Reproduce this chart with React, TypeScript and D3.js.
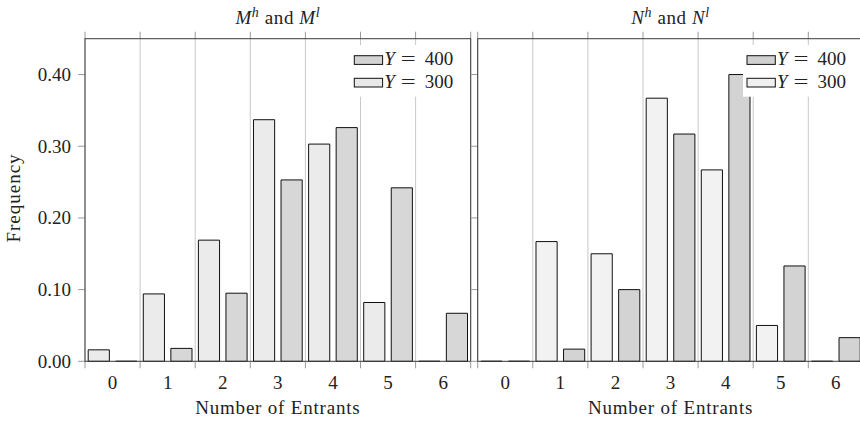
import React from "react";
import * as d3 from "d3";

const categories = [0, 1, 2, 3, 4, 5, 6];
const seriesKeys = ["300", "400"];
const yTicks = [0, 0.1, 0.2, 0.3, 0.4];

const mY300 = [0.016, 0.094, 0.169, 0.337, 0.303, 0.082, 0];
const mY400 = [0, 0.018, 0.095, 0.253, 0.326, 0.242, 0.067];
const nY300 = [0, 0.167, 0.15, 0.367, 0.267, 0.05, 0];
const nY400 = [0, 0.017, 0.1, 0.317, 0.4, 0.133, 0.033];

const FONT = "'Liberation Serif', serif";
const FS = 19;
const TOP = 38.7;
const BOTTOM = 361.3;
const PANEL_W = 385.7;
const TEXT = "#222";

type PanelProps = {
  x0: number;
  title: "M" | "N";
  y300: number[];
  y400: number[];
  fill300: string;
  fill400: string;
  leg300: string;
  leg400: string;
  showYLabels: boolean;
};

function Panel(p: PanelProps) {
  const x1 = p.x0 + PANEL_W;
  const xLin = d3.scaleLinear().domain([-0.5, 6.5]).range([p.x0, x1]);
  const band = d3
    .scaleBand<number>()
    .domain(categories)
    .range([p.x0, x1])
    .paddingInner(0)
    .paddingOuter(0);
  const sub = d3
    .scaleBand<string>()
    .domain(seriesKeys)
    .range([0, band.bandwidth()])
    .paddingInner(0.232)
    .paddingOuter(0.116);
  const y = d3.scaleLinear().domain([0, 0.45]).range([BOTTOM, TOP]);
  const gridVals = d3.range(-0.5, 7, 1);

  const barPath = (x: number, w: number, v: number) => {
    const path = d3.path();
    const yt = y(v);
    path.moveTo(x, BOTTOM);
    path.lineTo(x, yt);
    path.lineTo(x + w, yt);
    path.lineTo(x + w, BOTTOM);
    path.closePath();
    return path.toString();
  };

  const cx = (p.x0 + x1) / 2;
  const swX = x1 - 116.4;
  const legTop = 45;
  const legItems = [
    { label: "400", fill: p.leg400, y: 55.7 },
    { label: "300", fill: p.leg300, y: 78.3 },
  ];

  return (
    <g>
      {gridVals.map((g) => (
        <line
          key={"g" + g}
          x1={xLin(g)}
          x2={xLin(g)}
          y1={TOP}
          y2={BOTTOM}
          stroke="#c8c8c8"
          strokeWidth={1}
        />
      ))}
      {gridVals.map((g) => (
        <g key={"t" + g}>
          <line x1={xLin(g)} x2={xLin(g)} y1={TOP - 7} y2={TOP} stroke="#9a9a9a" strokeWidth={1} />
          <line x1={xLin(g)} x2={xLin(g)} y1={BOTTOM} y2={BOTTOM + 7} stroke="#9a9a9a" strokeWidth={1} />
        </g>
      ))}
      {yTicks.map((t) => (
        <line key={"yt" + t} x1={p.x0 - 7} x2={p.x0} y1={y(t)} y2={y(t)} stroke="#9a9a9a" strokeWidth={1} />
      ))}
      {categories.map((c, i) => (
        <g key={"b" + c}>
          <path
            d={barPath((band(c) as number) + (sub("300") as number), sub.bandwidth(), p.y300[i])}
            fill={p.fill300}
            stroke="#111"
            strokeWidth={1}
          />
          <path
            d={barPath((band(c) as number) + (sub("400") as number), sub.bandwidth(), p.y400[i])}
            fill={p.fill400}
            stroke="#111"
            strokeWidth={1}
          />
        </g>
      ))}
      <rect x={p.x0} y={TOP} width={PANEL_W} height={BOTTOM - TOP} fill="none" stroke="#3a3a3a" strokeWidth={1} />
      {categories.map((c) => (
        <text
          key={"xl" + c}
          x={(band(c) as number) + band.bandwidth() / 2}
          y={388.5}
          textAnchor="middle"
          fontFamily={FONT}
          fontSize={FS}
          fill={TEXT}
        >
          {c}
        </text>
      ))}
      {p.showYLabels &&
        yTicks.map((t) => (
          <text
            key={"yl" + t}
            x={p.x0 - 14}
            y={y(t) + 6.5}
            textAnchor="end"
            fontFamily={FONT}
            fontSize={FS}
            fill={TEXT}
          >
            {d3.format(".2f")(t)}
          </text>
        ))}
      <text
        x={cx}
        y={414}
        textAnchor="middle"
        fontFamily={FONT}
        fontSize={FS}
        letterSpacing={0.8}
        fill={TEXT}
      >
        Number of Entrants
      </text>
      <text x={cx} y={24} textAnchor="middle" fontFamily={FONT} fontSize={FS} letterSpacing={0.6} fill={TEXT}>
        <tspan fontStyle="italic">{p.title}</tspan>
        <tspan fontStyle="italic" fontSize={14} dy={-7}>h</tspan>
        <tspan dy={7}> and </tspan>
        <tspan fontStyle="italic">{p.title}</tspan>
        <tspan fontStyle="italic" fontSize={14} dy={-7}>l</tspan>
      </text>
      <rect x={swX - 4} y={legTop} width={x1 - 3 - (swX - 4)} height={96.7 - legTop} fill="#fff" />
      {legItems.map((it) => (
        <g key={"leg" + it.label}>
          <rect x={swX} y={it.y} width={28.3} height={8.7} fill={it.fill} stroke="#111" strokeWidth={1} />
          <text x={swX + 30} y={it.y + 9.4} fontFamily={FONT} fontSize={FS} fontStyle="italic" fill={TEXT}>
            Y
          </text>
          <text
            transform={`translate(${swX + 54},${it.y + 9.4}) scale(1.4,1)`}
            textAnchor="middle"
            fontFamily={FONT}
            fontSize={FS}
            fill={TEXT}
          >
            =
          </text>
          <text
            x={swX + 99}
            y={it.y + 9.4}
            textAnchor="end"
            fontFamily={FONT}
            fontSize={FS}
            fill={TEXT}
          >
            {it.label}
          </text>
        </g>
      ))}
    </g>
  );
}

export default function App() {
  return (
    <svg
      width={860}
      height={422}
      viewBox="0 0 860 422"
      style={{ position: "fixed", left: 0, top: 0, background: "#fff" }}
    >
      <rect x={0} y={0} width={860} height={422} fill="#fff" />
      <Panel
        x0={85}
        title="M"
        y300={mY300}
        y400={mY400}
        fill300="#ebebeb"
        fill400="#d7d7d7"
        leg300="#e8e8e8"
        leg400="#d3d3d3"
        showYLabels={true}
      />
      <Panel
        x0={477.7}
        title="N"
        y300={nY300}
        y400={nY400}
        fill300="#f2f2f2"
        fill400="#d3d3d3"
        leg300="#f0f0f0"
        leg400="#d0d0d0"
        showYLabels={false}
      />
      <text
        transform="translate(19.5,198) rotate(-90)"
        textAnchor="middle"
        fontFamily={FONT}
        fontSize={FS}
        letterSpacing={1}
        fill={TEXT}
      >
        Frequency
      </text>
    </svg>
  );
}
